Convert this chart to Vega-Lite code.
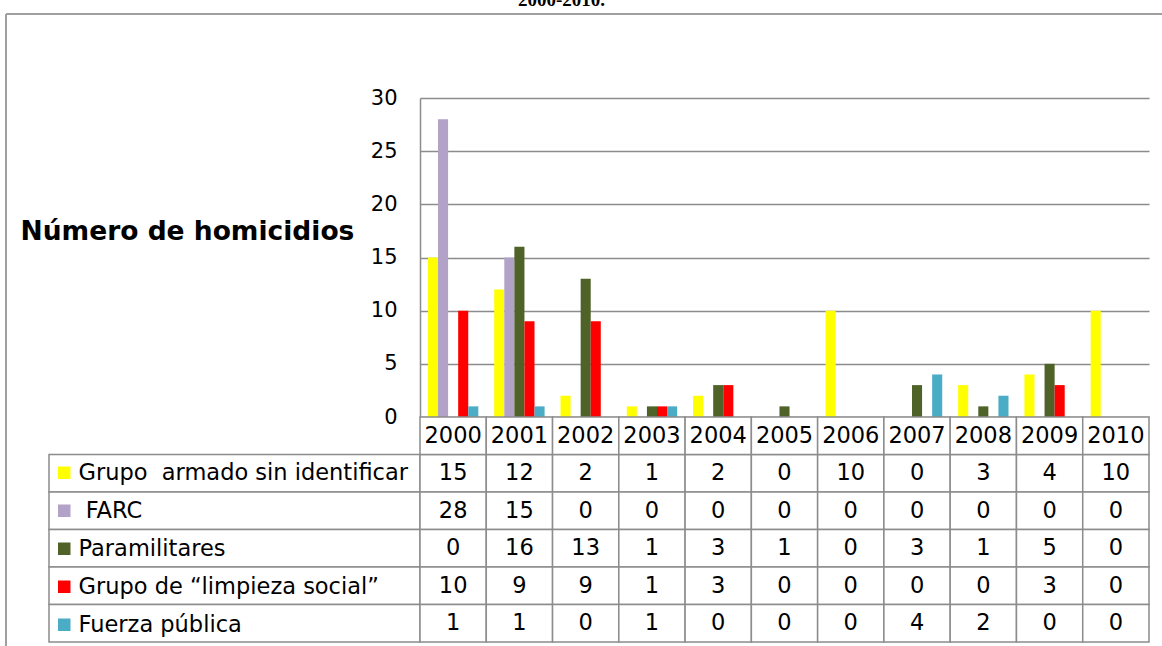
{
  "$schema": "https://vega.github.io/schema/vega-lite/v6.json",
  "padding": {"left": 5, "top": -9, "right": 0, "bottom": 0},
  "background": "white",
  "title": {"text": "2000-2010.", "font": "Liberation Serif", "fontSize": 19, "fontWeight": "bold", "anchor": "start", "dx": 513, "offset": 3, "color": "black"},
  "config": {"view": {"stroke": null}, "font": "DejaVu Sans"},
  "datasets": {
    "h": [
      {"year": "2000", "grupo": "Grupo\u00a0 armado sin identificar", "value": 15},
      {"year": "2001", "grupo": "Grupo\u00a0 armado sin identificar", "value": 12},
      {"year": "2002", "grupo": "Grupo\u00a0 armado sin identificar", "value": 2},
      {"year": "2003", "grupo": "Grupo\u00a0 armado sin identificar", "value": 1},
      {"year": "2004", "grupo": "Grupo\u00a0 armado sin identificar", "value": 2},
      {"year": "2005", "grupo": "Grupo\u00a0 armado sin identificar", "value": 0},
      {"year": "2006", "grupo": "Grupo\u00a0 armado sin identificar", "value": 10},
      {"year": "2007", "grupo": "Grupo\u00a0 armado sin identificar", "value": 0},
      {"year": "2008", "grupo": "Grupo\u00a0 armado sin identificar", "value": 3},
      {"year": "2009", "grupo": "Grupo\u00a0 armado sin identificar", "value": 4},
      {"year": "2010", "grupo": "Grupo\u00a0 armado sin identificar", "value": 10},
      {"year": "2000", "grupo": "\u200b\u00a0FARC", "value": 28},
      {"year": "2001", "grupo": "\u200b\u00a0FARC", "value": 15},
      {"year": "2002", "grupo": "\u200b\u00a0FARC", "value": 0},
      {"year": "2003", "grupo": "\u200b\u00a0FARC", "value": 0},
      {"year": "2004", "grupo": "\u200b\u00a0FARC", "value": 0},
      {"year": "2005", "grupo": "\u200b\u00a0FARC", "value": 0},
      {"year": "2006", "grupo": "\u200b\u00a0FARC", "value": 0},
      {"year": "2007", "grupo": "\u200b\u00a0FARC", "value": 0},
      {"year": "2008", "grupo": "\u200b\u00a0FARC", "value": 0},
      {"year": "2009", "grupo": "\u200b\u00a0FARC", "value": 0},
      {"year": "2010", "grupo": "\u200b\u00a0FARC", "value": 0},
      {"year": "2000", "grupo": "Paramilitares", "value": 0},
      {"year": "2001", "grupo": "Paramilitares", "value": 16},
      {"year": "2002", "grupo": "Paramilitares", "value": 13},
      {"year": "2003", "grupo": "Paramilitares", "value": 1},
      {"year": "2004", "grupo": "Paramilitares", "value": 3},
      {"year": "2005", "grupo": "Paramilitares", "value": 1},
      {"year": "2006", "grupo": "Paramilitares", "value": 0},
      {"year": "2007", "grupo": "Paramilitares", "value": 3},
      {"year": "2008", "grupo": "Paramilitares", "value": 1},
      {"year": "2009", "grupo": "Paramilitares", "value": 5},
      {"year": "2010", "grupo": "Paramilitares", "value": 0},
      {"year": "2000", "grupo": "Grupo de “limpieza social”", "value": 10},
      {"year": "2001", "grupo": "Grupo de “limpieza social”", "value": 9},
      {"year": "2002", "grupo": "Grupo de “limpieza social”", "value": 9},
      {"year": "2003", "grupo": "Grupo de “limpieza social”", "value": 1},
      {"year": "2004", "grupo": "Grupo de “limpieza social”", "value": 3},
      {"year": "2005", "grupo": "Grupo de “limpieza social”", "value": 0},
      {"year": "2006", "grupo": "Grupo de “limpieza social”", "value": 0},
      {"year": "2007", "grupo": "Grupo de “limpieza social”", "value": 0},
      {"year": "2008", "grupo": "Grupo de “limpieza social”", "value": 0},
      {"year": "2009", "grupo": "Grupo de “limpieza social”", "value": 3},
      {"year": "2010", "grupo": "Grupo de “limpieza social”", "value": 0},
      {"year": "2000", "grupo": "Fuerza pública", "value": 1},
      {"year": "2001", "grupo": "Fuerza pública", "value": 1},
      {"year": "2002", "grupo": "Fuerza pública", "value": 0},
      {"year": "2003", "grupo": "Fuerza pública", "value": 1},
      {"year": "2004", "grupo": "Fuerza pública", "value": 0},
      {"year": "2005", "grupo": "Fuerza pública", "value": 0},
      {"year": "2006", "grupo": "Fuerza pública", "value": 0},
      {"year": "2007", "grupo": "Fuerza pública", "value": 4},
      {"year": "2008", "grupo": "Fuerza pública", "value": 2},
      {"year": "2009", "grupo": "Fuerza pública", "value": 0},
      {"year": "2010", "grupo": "Fuerza pública", "value": 0}
    ],
    "years": [
      {"year": "2000"}, {"year": "2001"}, {"year": "2002"}, {"year": "2003"}, {"year": "2004"}, {"year": "2005"},
      {"year": "2006"}, {"year": "2007"}, {"year": "2008"}, {"year": "2009"}, {"year": "2010"}
    ],
    "series": [
      {"grupo": "Grupo\u00a0 armado sin identificar"},
      {"grupo": "\u200b\u00a0FARC"},
      {"grupo": "Paramilitares"},
      {"grupo": "Grupo de “limpieza social”"},
      {"grupo": "Fuerza pública"}
    ],
    "one": [{}]
  },
  "columns": 3,
  "spacing": 0,
  "bounds": "flush",
  "align": "each",
  "concat": [
    {
      "width": 43, "height": 84,
      "data": {"name": "one"},
      "layer": [
        {"mark": {"type": "rule", "stroke": "#a0a0a0", "strokeWidth": 2},
         "encoding": {"x": {"datum": 0, "type": "quantitative", "scale": {"domain": [0, 1]}, "axis": null}}},
        {"mark": {"type": "rule", "stroke": "#a0a0a0", "strokeWidth": 2},
         "encoding": {"y": {"datum": 1, "type": "quantitative", "scale": {"domain": [0, 1]}, "axis": null}}}
      ]
    },
    {
      "width": 371, "height": 84,
      "data": {"name": "one"},
      "mark": {"type": "rule", "stroke": "#a0a0a0", "strokeWidth": 2},
      "encoding": {"y": {"datum": 1, "type": "quantitative", "scale": {"domain": [0, 1]}, "axis": null}}
    },
    {
      "width": 743, "height": 84,
      "data": {"name": "one"},
      "mark": {"type": "rule", "stroke": "#a0a0a0", "strokeWidth": 2},
      "encoding": {"y": {"datum": 1, "type": "quantitative", "scale": {"domain": [0, 1]}, "axis": null}}
    },
    {
      "width": 43, "height": 319,
      "data": {"name": "one"},
      "mark": {"type": "rule", "stroke": "#a0a0a0", "strokeWidth": 2},
      "encoding": {"x": {"datum": 0, "type": "quantitative", "scale": {"domain": [0, 1]}, "axis": null}}
    },
    {
      "width": 371, "height": 319,
      "data": {"values": []},
      "mark": {"type": "rule"},
      "encoding": {}
    },
    {
      "width": 729, "height": 319,
      "data": {"name": "h"},
      "mark": {"type": "bar"},
      "encoding": {
        "x": {"field": "year", "type": "nominal", "scale": {"paddingInner": 0.24, "paddingOuter": 0.12}, "axis": null},
        "xOffset": {"field": "grupo", "type": "nominal", "scale": {"domain": ["Grupo\u00a0 armado sin identificar", "\u200b\u00a0FARC", "Paramilitares", "Grupo de “limpieza social”", "Fuerza pública"], "paddingInner": 0, "paddingOuter": 0}},
        "y": {"field": "value", "type": "quantitative", "scale": {"domain": [0, 30], "nice": false},
          "axis": {"values": [0, 5, 10, 15, 20, 25, 30], "grid": true, "gridColor": "#8c8c8c", "gridWidth": 1.5,
            "domain": true, "domainColor": "#8c8c8c", "domainWidth": 1.5, "ticks": false, "tickSize": 0,
            "labelPadding": 23, "labelFont": "DejaVu Sans", "labelFontSize": 21, "labelColor": "black",
            "title": "Número de homicidios", "titleAngle": 0, "titleAlign": "left", "titleBaseline": "middle",
            "titleX": -400, "titleY": 133, "titleFont": "DejaVu Sans", "titleFontSize": 26.5, "titleFontWeight": "bold", "titleColor": "black"}},
        "color": {"field": "grupo", "type": "nominal",
          "scale": {"domain": ["Grupo\u00a0 armado sin identificar", "\u200b\u00a0FARC", "Paramilitares", "Grupo de “limpieza social”", "Fuerza pública"],
                    "range": ["#FFFF00", "#B3A2C7", "#4F6228", "#FF0000", "#4BACC6"]},
          "legend": {"orient": "none", "legendX": 47, "legendY": 447.5, "title": null, "symbolType": "square", "symbolSize": 156,
            "symbolStrokeWidth": 0, "symbolOpacity": 1, "labelFont": "DejaVu Sans", "labelFontSize": 22.5, "labelColor": "black",
            "labelOffset": 3, "rowPadding": 15, "labelLimit": 600, "padding": 0}}
      }
    },
    {
      "width": 43, "height": 233,
      "data": {"name": "one"},
      "mark": {"type": "rule", "stroke": "#a0a0a0", "strokeWidth": 2},
      "encoding": {"x": {"datum": 0, "type": "quantitative", "scale": {"domain": [0, 1]}, "axis": null}}
    },
    {
      "width": 371, "height": 225,
      "data": {"name": "series"},
      "mark": {"type": "rect", "fill": "white", "stroke": "#8c8c8c", "strokeWidth": 1.5},
      "encoding": {
        "y": {"field": "grupo", "type": "nominal",
          "scale": {"domain": ["Año", "Grupo\u00a0 armado sin identificar", "\u200b\u00a0FARC", "Paramilitares", "Grupo de “limpieza social”", "Fuerza pública"], "paddingInner": 0, "paddingOuter": 0},
          "axis": null}
      }
    },
    {
      "width": 729, "height": 225,
      "layer": [
        {
          "data": {"name": "h"},
          "mark": {"type": "rect", "fill": "white", "stroke": "#8c8c8c", "strokeWidth": 1.5},
          "encoding": {
            "x": {"field": "year", "type": "nominal", "scale": {"paddingInner": 0, "paddingOuter": 0}, "axis": null},
            "y": {"field": "grupo", "type": "nominal",
              "scale": {"domain": ["Año", "Grupo\u00a0 armado sin identificar", "\u200b\u00a0FARC", "Paramilitares", "Grupo de “limpieza social”", "Fuerza pública"], "paddingInner": 0, "paddingOuter": 0},
              "axis": null}
          }
        },
        {
          "data": {"name": "years"},
          "mark": {"type": "rect", "fill": "white", "stroke": "#8c8c8c", "strokeWidth": 1.5},
          "encoding": {
            "x": {"field": "year", "type": "nominal"},
            "y": {"datum": "Año", "type": "nominal"}
          }
        },
        {
          "data": {"name": "h"},
          "mark": {"type": "text", "font": "DejaVu Sans", "fontSize": 22.5, "color": "black"},
          "encoding": {
            "x": {"field": "year", "type": "nominal"},
            "y": {"field": "grupo", "type": "nominal"},
            "text": {"field": "value", "type": "quantitative"}
          }
        },
        {
          "data": {"name": "years"},
          "mark": {"type": "text", "font": "DejaVu Sans", "fontSize": 22.5, "color": "black"},
          "encoding": {
            "x": {"field": "year", "type": "nominal"},
            "y": {"datum": "Año", "type": "nominal"},
            "text": {"field": "year", "type": "nominal"}
          }
        }
      ]
    }
  ]
}
